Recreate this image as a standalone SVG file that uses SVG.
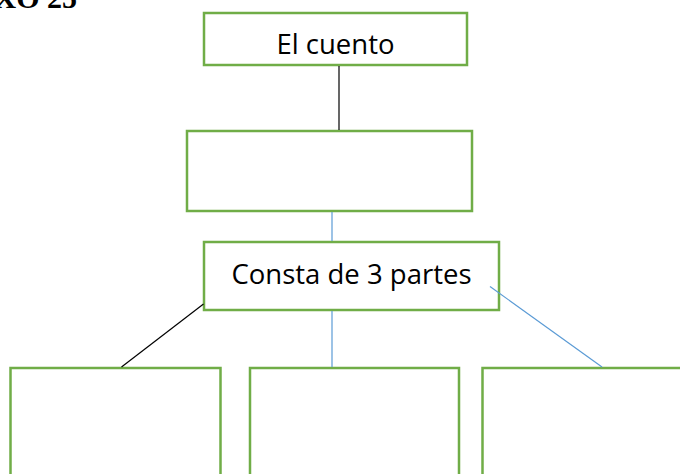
<svg xmlns="http://www.w3.org/2000/svg" width="680" height="474" viewBox="0 0 680 474">
<style>
.box{fill:#fff;stroke:#70AD47;stroke-width:2.5}
.lbl{font-family:"Open Sans","Noto Sans",sans-serif;font-size:27.5px;fill:#000;text-anchor:middle}
.blk{stroke:#000;stroke-width:1.2;fill:none}
.blu{stroke:#5B9BD5;stroke-width:1.2;fill:none}
</style>
<rect width="680" height="474" fill="#fff"/>
<text x="77" y="7.5" font-family="Liberation Serif, serif" font-weight="bold" font-size="30" text-anchor="end">XO 25</text>
<g id="n1"><rect class="box" x="204" y="13" width="263" height="52"/><text class="lbl" x="335.5" y="54">El cuento</text></g>
<g id="n2"><rect class="box" x="187" y="131" width="285" height="80"/></g>
<g id="n3"><rect class="box" x="204" y="242" width="295" height="68"/><text class="lbl" x="351.5" y="283.5">Consta de 3 partes</text></g>
<g id="n4"><path class="box" d="M10.5,480 V368 H220.5 V480"/></g>
<g id="n5"><path class="box" d="M250,480 V368 H459 V480"/></g>
<g id="n6"><path class="box" d="M482.5,480 V368 H690 V480"/></g>
<g id="connectors">
<line class="blk" x1="339" y1="66" x2="339" y2="130"/>
<line class="blu" x1="332" y1="212" x2="332" y2="241"/>
<line class="blk" x1="203.5" y1="304" x2="121.5" y2="367"/>
<line class="blu" x1="332" y1="311" x2="332" y2="367"/>
<line class="blu" x1="490" y1="286.5" x2="602" y2="367"/>
</g>
</svg>
